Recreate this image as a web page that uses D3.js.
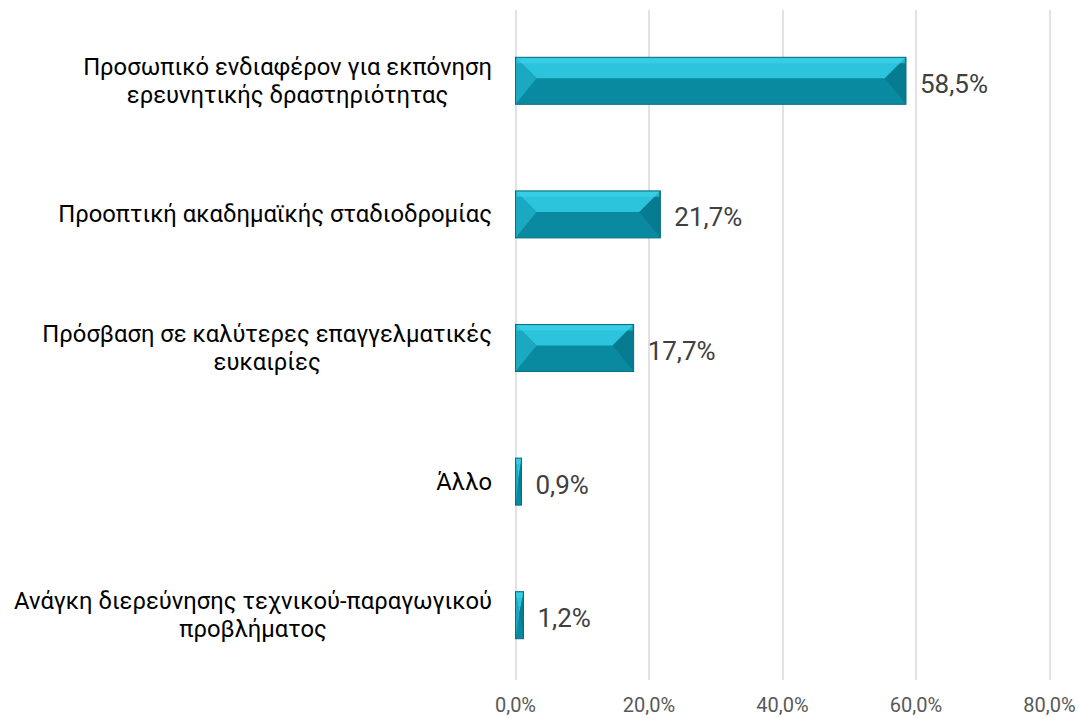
<!DOCTYPE html>
<html><head><meta charset="utf-8">
<script src="https://cdn.jsdelivr.net/npm/d3@7"></script>
<style>body{margin:0;background:#fff}svg{display:block}</style>
</head><body>
<svg id="c" width="1078" height="718"></svg>
<script>
const categories = [
  ["Προσωπικό ενδιαφέρον για εκπόνηση", "ερευνητικής δραστηριότητας"],
  ["Προοπτική ακαδημαϊκής σταδιοδρομίας"],
  ["Πρόσβαση σε καλύτερες επαγγελματικές", "ευκαιρίες"],
  ["Άλλο"],
  ["Ανάγκη διερεύνησης τεχνικού-παραγωγικού", "προβλήματος"]
];
const values = [58.5, 21.7, 17.7, 0.9, 1.2];
const valueLabels = ["58,5%", "21,7%", "17,7%", "0,9%", "1,2%"];
const tickValues = [0, 20, 40, 60, 80];
const tickLabels = ["0,0%", "20,0%", "40,0%", "60,0%", "80,0%"];

const numFont = "Roboto, sans-serif";
const catFont = "Roboto, 'DejaVu Sans', sans-serif";

const svg = d3.select("#c");
const x = d3.scaleLinear().domain([0, 80]).range([515.5, 1049.5]);
const y = d3.scaleBand().domain(d3.range(categories.length)).range([14, 682]).paddingInner(0.648).paddingOuter(0.324);

// gridlines
svg.append("g").selectAll("line").data(tickValues).join("line")
  .attr("x1", d => Math.round(x(d))).attr("x2", d => Math.round(x(d)))
  .attr("y1", 10).attr("y2", 680)
  .attr("stroke", "#d9d9d9").attr("stroke-width", 1.5);

// tick labels
svg.append("g").selectAll("text").data(tickValues).join("text")
  .attr("x", d => x(d)).attr("y", 712)
  .attr("text-anchor", "middle")
  .attr("font-family", numFont)
  .attr("font-size", 20).attr("fill", "#595959")
  .text((d, i) => tickLabels[i]);

// bars with bevel
const bars = svg.append("g").selectAll("g").data(values).join("g");
bars.each(function(v, i) {
  const g = d3.select(this);
  const x0 = x(0), x1 = x(v), y0 = y(i), y1 = y(i) + y.bandwidth();
  const w = x1 - x0, h = y1 - y0;
  const b = Math.min(21, w / 2);
  const ym = y0 + Math.min(21, h * 0.45);
  g.append("rect").attr("x", x0).attr("y", y0).attr("width", w).attr("height", h).attr("fill", "#0a8aa0");
  g.append("path").attr("d", `M${x0},${y0}L${x1},${y0}L${x1-b},${ym}L${x0+b},${ym}Z`).attr("fill", "#2cc3dc");
  g.append("path").attr("d", `M${x0},${y0}L${x0+b},${ym}L${x0},${y1}Z`).attr("fill", "#1aa9c0");
  g.append("path").attr("d", `M${x1},${y0}L${x1-b},${ym}L${x1},${y1}Z`).attr("fill", "#077c90");
  g.append("rect").attr("x", x0 + 1).attr("y", y0 + 1).attr("width", Math.max(0, w - 2)).attr("height", 5).attr("fill", "#3fd3ea").attr("opacity", 0.6);
  g.append("rect").attr("x", x0).attr("y", y0).attr("width", w).attr("height", h)
    .attr("fill", "none").attr("stroke", "#0b6f80").attr("stroke-width", 1);
});

// value labels
svg.append("g").selectAll("text").data(values).join("text")
  .attr("x", d => x(d) + 14).attr("y", (d, i) => y(i) + y.bandwidth() / 2 + 12)
  .attr("font-family", numFont)
  .attr("font-size", 26).attr("fill", "#404040")
  .text((d, i) => valueLabels[i]);

// category labels (block right-aligned, lines centred)
const cat = svg.append("g").selectAll("text").data(categories).join("text")
  .attr("text-anchor", "middle")
  .attr("font-family", catFont)
  .attr("font-size", 23.8).attr("fill", "#000");
cat.each(function(lines, i) {
  const cy = y(i) + y.bandwidth() / 2;
  const lh = 28;
  const start = cy - (lines.length - 1) * lh / 2 + 8;
  const t = d3.select(this);
  const spans = lines.map((l, j) => t.append("tspan").attr("y", start + j * lh).text(l));
  const maxW = d3.max(spans, s => s.node().getComputedTextLength());
  spans.forEach(s => s.attr("x", 492 - maxW / 2));
});
</script>
</body></html>
